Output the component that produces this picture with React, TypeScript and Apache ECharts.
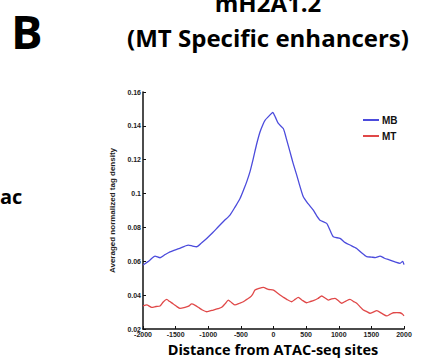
import React, { useEffect, useRef } from "react";
import * as echarts from "echarts";

const mbData: [number, number][] = [
  [-2000, 0.0578], [-1900, 0.0605], [-1816, 0.0631], [-1739, 0.0621], [-1660, 0.0640],
  [-1586, 0.0656], [-1450, 0.0675], [-1306, 0.0696], [-1240, 0.0690], [-1178, 0.0686],
  [-1100, 0.0710], [-1024, 0.0735], [-930, 0.0770], [-846, 0.0804], [-760, 0.0838],
  [-667, 0.0873], [-590, 0.0920], [-513, 0.0971], [-450, 0.1030], [-411, 0.1069],
  [-360, 0.1130], [-310, 0.1207], [-260, 0.1290], [-207, 0.1364], [-160, 0.1410],
  [-130, 0.1433], [-60, 0.1462], [-12, 0.1479], [30, 0.1450], [74, 0.1414],
  [150, 0.1384], [200, 0.1320], [253, 0.1246], [300, 0.1180], [356, 0.1109],
  [400, 0.1050], [457, 0.0981], [530, 0.0940], [610, 0.0902], [660, 0.0870],
  [713, 0.0843], [815, 0.0824], [870, 0.0780], [917, 0.0745], [1019, 0.0735],
  [1100, 0.0710], [1172, 0.0696], [1275, 0.0676], [1350, 0.0650], [1428, 0.0627],
  [1500, 0.0625], [1560, 0.0622], [1632, 0.0631], [1700, 0.0618], [1785, 0.0607],
  [1870, 0.0595], [1939, 0.0588], [1980, 0.0600], [2000, 0.0580]
];

const mtData: [number, number][] = [
  [-2000, 0.0336], [-1943, 0.0342], [-1867, 0.0328], [-1800, 0.0333], [-1739, 0.0336],
  [-1690, 0.0360], [-1637, 0.0375], [-1590, 0.0362], [-1536, 0.0348], [-1480, 0.0332],
  [-1433, 0.0322], [-1356, 0.0328], [-1300, 0.0335], [-1254, 0.0348], [-1200, 0.0340],
  [-1152, 0.0328], [-1090, 0.0312], [-1024, 0.0302], [-923, 0.0312], [-850, 0.0320],
  [-794, 0.0328], [-740, 0.0350], [-693, 0.0371], [-640, 0.0355], [-590, 0.0342],
  [-520, 0.0352], [-463, 0.0361], [-410, 0.0375], [-360, 0.0387], [-320, 0.0405],
  [-284, 0.0430], [-220, 0.0440], [-156, 0.0446], [-80, 0.0434], [0, 0.0430],
  [50, 0.0415], [100, 0.0401], [150, 0.0388], [203, 0.0375], [279, 0.0361],
  [330, 0.0375], [380, 0.0387], [440, 0.0370], [509, 0.0355], [560, 0.0362],
  [610, 0.0367], [680, 0.0380], [739, 0.0395], [790, 0.0383], [840, 0.0371],
  [890, 0.0378], [943, 0.0381], [1000, 0.0365], [1045, 0.0352], [1110, 0.0365],
  [1172, 0.0375], [1230, 0.0362], [1275, 0.0352], [1330, 0.0330], [1377, 0.0312],
  [1430, 0.0303], [1479, 0.0293], [1530, 0.0300], [1582, 0.0308], [1660, 0.0292],
  [1735, 0.0277], [1790, 0.0288], [1837, 0.0296], [1890, 0.0297], [1939, 0.0296],
  [1975, 0.0288], [2000, 0.0277]
];

const seriesNames = ["MB", "MT"];
const seriesColors = ["#4b4bdc", "#e04848"];
const xTicks = { min: -2000, max: 2000, interval: 500 };
const yTicks = { min: 0.02, max: 0.16, interval: 0.02 };

export default function App() {
  const ref = useRef<HTMLDivElement>(null);
  useEffect(() => {
    if (!ref.current) return;
    const chart = echarts.init(ref.current, undefined, { renderer: "svg" });
    const tickLabel = { fontFamily: "Liberation Sans", fontWeight: "bold" as const, fontSize: 7, color: "#222" };
    const titleFont = "Open Sans";
    chart.setOption({
      animation: false,
      backgroundColor: "#ffffff",
      grid: { left: 143, right: 29, top: 92, bottom: 29, containLabel: false },
      legend: {
        orient: "vertical",
        left: 358,
        top: 110,
        itemWidth: 16,
        itemHeight: 2,
        itemGap: 6,
        icon: "rect",
        data: seriesNames,
        textStyle: { fontFamily: "Liberation Sans", fontWeight: "bold", fontSize: 10, color: "#111", padding: [0, 0, 0, -2] }
      },
      xAxis: {
        type: "value",
        min: xTicks.min,
        max: xTicks.max,
        interval: xTicks.interval,
        splitLine: { show: false },
        axisLine: { onZero: false, lineStyle: { color: "#111", width: 1.5 } },
        axisTick: { inside: true, length: 3, lineStyle: { color: "#111" } },
        axisLabel: { ...tickLabel, margin: 2, formatter: (v: number) => String(v) }
      },
      yAxis: {
        type: "value",
        min: yTicks.min,
        max: yTicks.max,
        interval: yTicks.interval,
        splitLine: { show: false },
        axisLine: { show: true, onZero: false, lineStyle: { color: "#111", width: 1.5 } },
        axisTick: { show: true, inside: true, length: 3, lineStyle: { color: "#111" } },
        axisLabel: { ...tickLabel, margin: 2, formatter: (v: number) => String(+v.toFixed(2)) },
        name: "Averaged normalized tag density",
        nameLocation: "middle",
        nameGap: 22,
        nameTextStyle: { fontFamily: "Liberation Sans", fontWeight: "bold", fontSize: 8, color: "#222" }
      },
      series: [
        { name: seriesNames[0], type: "line", data: mbData, showSymbol: false, smooth: 0.2, lineStyle: { color: seriesColors[0], width: 1.3 }, itemStyle: { color: seriesColors[0] } },
        { name: seriesNames[1], type: "line", data: mtData, showSymbol: false, smooth: 0.2, lineStyle: { color: seriesColors[1], width: 1.3 }, itemStyle: { color: seriesColors[1] } }
      ],
      graphic: [
        { type: "text", x: 11, y: 31, style: { text: "B", fontFamily: titleFont, fontWeight: "bold", fontSize: 47, lineHeight: 40, fill: "#000", textAlign: "left", textVerticalAlign: "middle" } },
        { type: "text", x: 268, y: 14, style: { text: "mH2A1.2", fontFamily: titleFont, fontWeight: "bold", fontSize: 24, fill: "#000", textAlign: "center", textVerticalAlign: "bottom" } },
        { type: "text", x: 268, y: 37, style: { text: "(MT Specific enhancers)", fontFamily: titleFont, fontWeight: "bold", fontSize: 24, fill: "#000", textAlign: "center", textVerticalAlign: "middle" } },
        { type: "text", x: 0, y: 196, style: { text: "ac", fontFamily: titleFont, fontWeight: "bold", fontSize: 20, fill: "#000", textAlign: "left", textVerticalAlign: "middle" } },
        { type: "text", x: 273, y: 349, style: { text: "Distance from ATAC-seq sites", fontFamily: titleFont, fontWeight: "bold", fontSize: 14.5, fill: "#000", textAlign: "center", textVerticalAlign: "middle" } }
      ]
    });
    return () => chart.dispose();
  }, []);
  return <div ref={ref} style={{ position: "absolute", left: 0, top: 0, width: 433, height: 358 }} />;
}
